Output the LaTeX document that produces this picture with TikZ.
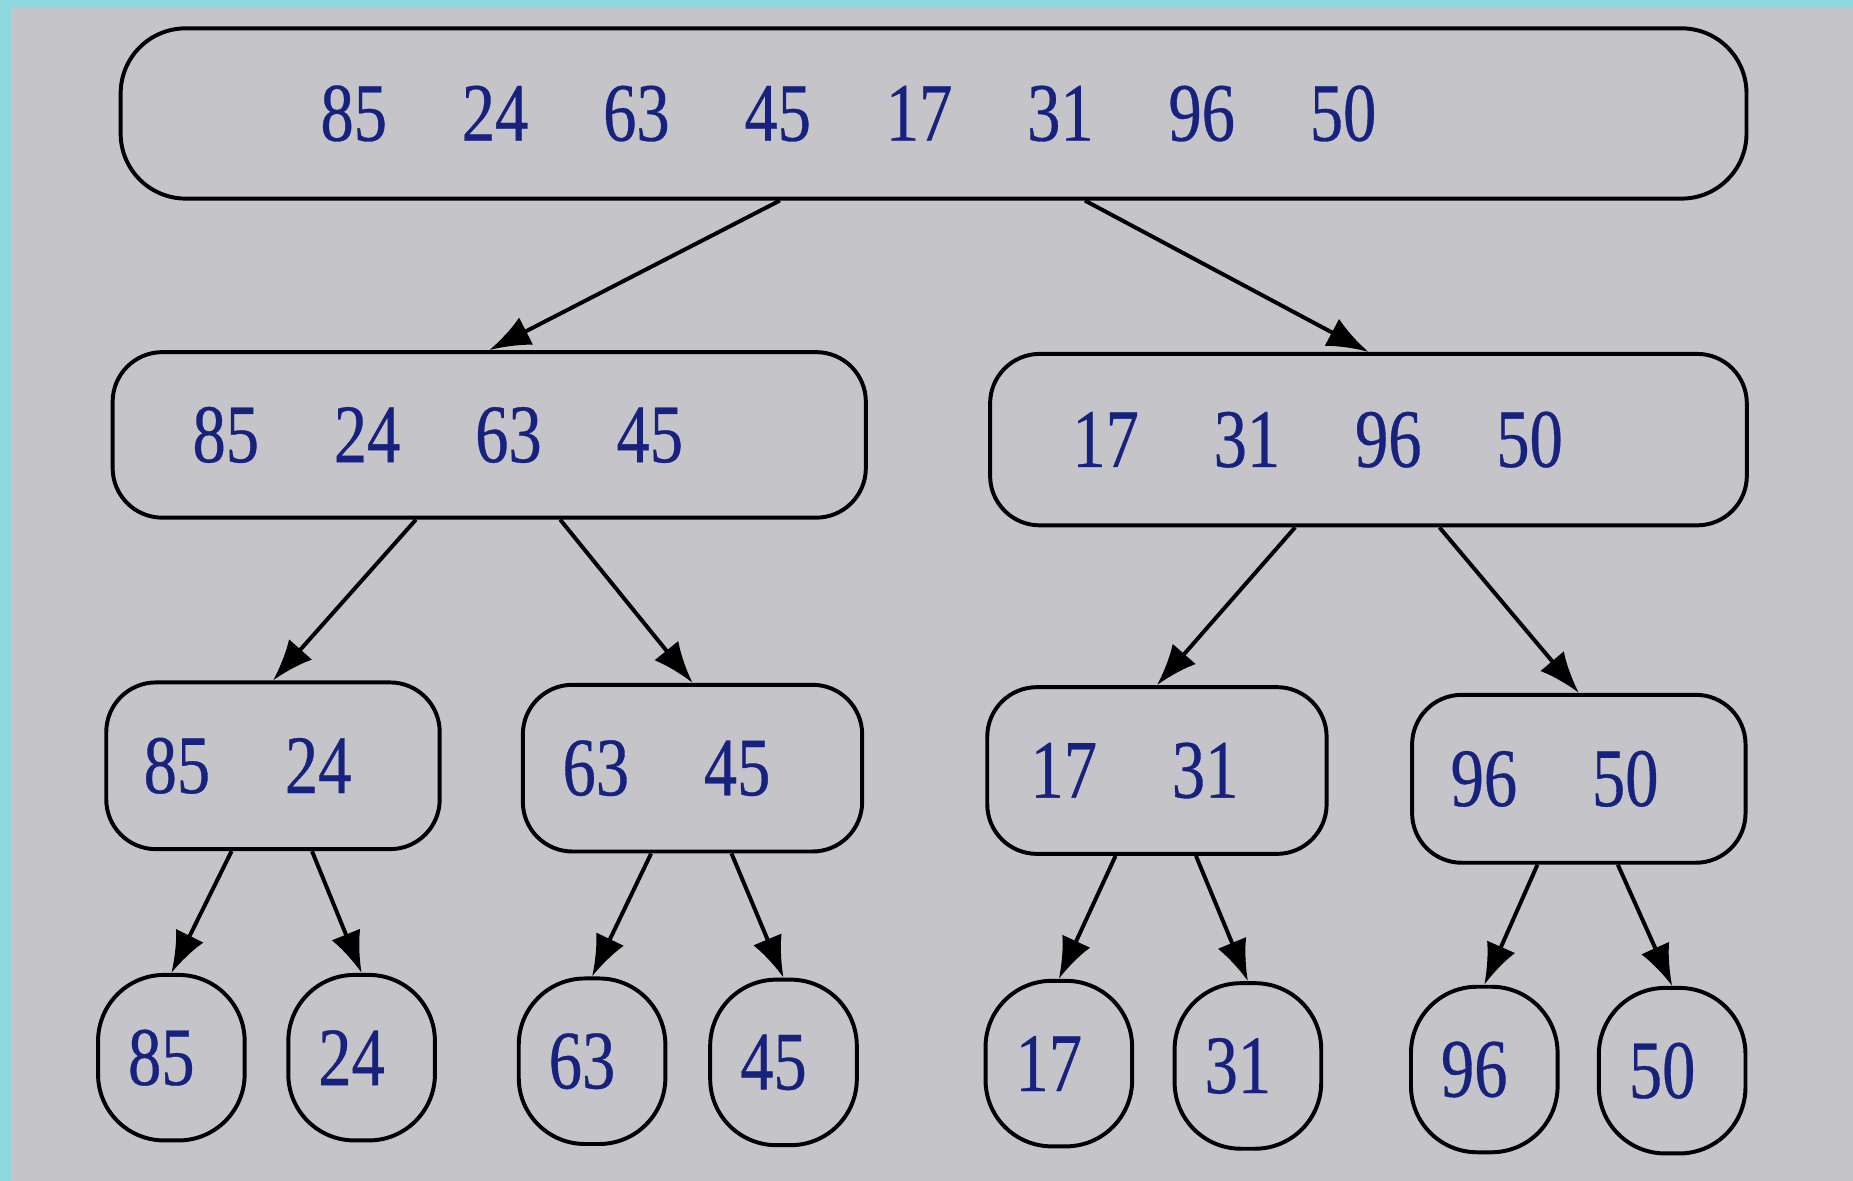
\documentclass[tikz,border=0pt]{standalone}
\usepackage{fontspec}
\usetikzlibrary{arrows.meta}
\newfontfamily\numfont[FakeStretch=0.8,FakeBold=0.4]{Liberation Serif}
\definecolor{paper}{RGB}{197,196,200}
\definecolor{rim}{RGB}{140,216,220}
\definecolor{ink}{RGB}{22,34,125}
\newcommand{\gp}{\hspace{0.633cm}}
\begin{document}
\begin{tikzpicture}[x=0.01cm,y=-0.01cm,line width=0.95pt,>={Latex[length=3.5mm,width=2.6mm]},
  box/.style={draw,rounded corners=0.42cm,inner sep=0pt,minimum height=1.41cm,font=\numfont\fontsize{20}{24}\selectfont,text=ink},
  leaf/.style={box,rounded corners=0.56cm,minimum width=1.24cm,minimum height=1.4cm}]
\fill[rim] (0,0) rectangle (1568,999);
\fill[paper] (9,7) rectangle (1568,999);
% levels
\node[box,minimum width=13.75cm,minimum height=1.44cm,rounded corners=0.55cm] (r) at (790,96) {85\gp24\gp63\gp45\gp17\gp31\gp96\gp50\hspace*{1.44cm}};
\node[box,minimum width=6.37cm,minimum height=1.4cm] (a) at (414,368) {85\gp24\gp63\gp45\hspace*{0.87cm}};
\node[box,minimum width=6.4cm,minimum height=1.45cm] (b) at (1158,372) {17\gp31\gp96\gp50\hspace*{0.86cm}};
\node[box,minimum width=2.82cm] (a1) at (231,648) {85\gp24\hspace*{0.43cm}};
\node[box,minimum width=2.87cm] (a2) at (586,650) {63\gp45\hspace*{0.44cm}};
\node[box,minimum width=2.87cm] (b1) at (979,652) {17\gp31\hspace*{0.38cm}};
\node[box,minimum width=2.82cm,minimum height=1.42cm] (b2) at (1336,659) {96\gp50\hspace*{0.41cm}};
\foreach \v/\x/\y in {85/145/895,24/306/895,63/501/898,45/663/899,17/896/900,31/1056/902,96/1256/905,50/1415/906}
  \node[leaf] (l\v) at (\x,\y) {\v\hspace*{0.17cm}};
% arrows
\draw[->] ([xshift=-1.3cm]r.south) -- (a.north);
\draw[->] ([xshift=1.28cm]r.south) -- (b.north);
\foreach \p/\c/\d in {a/a1/a2,b/b1/b2}{
  \draw[->] ([xshift=-0.62cm]\p.south) -- (\c.north);
  \draw[->] ([xshift=0.6cm]\p.south) -- (\d.north);}
\foreach \p/\c/\d in {a1/85/24,a2/63/45,b1/17/31,b2/96/50}{
  \draw[->] ([xshift=-0.35cm]\p.south) -- (l\c.north);
  \draw[->] ([xshift=0.33cm]\p.south) -- (l\d.north);}
\end{tikzpicture}
\end{document}
